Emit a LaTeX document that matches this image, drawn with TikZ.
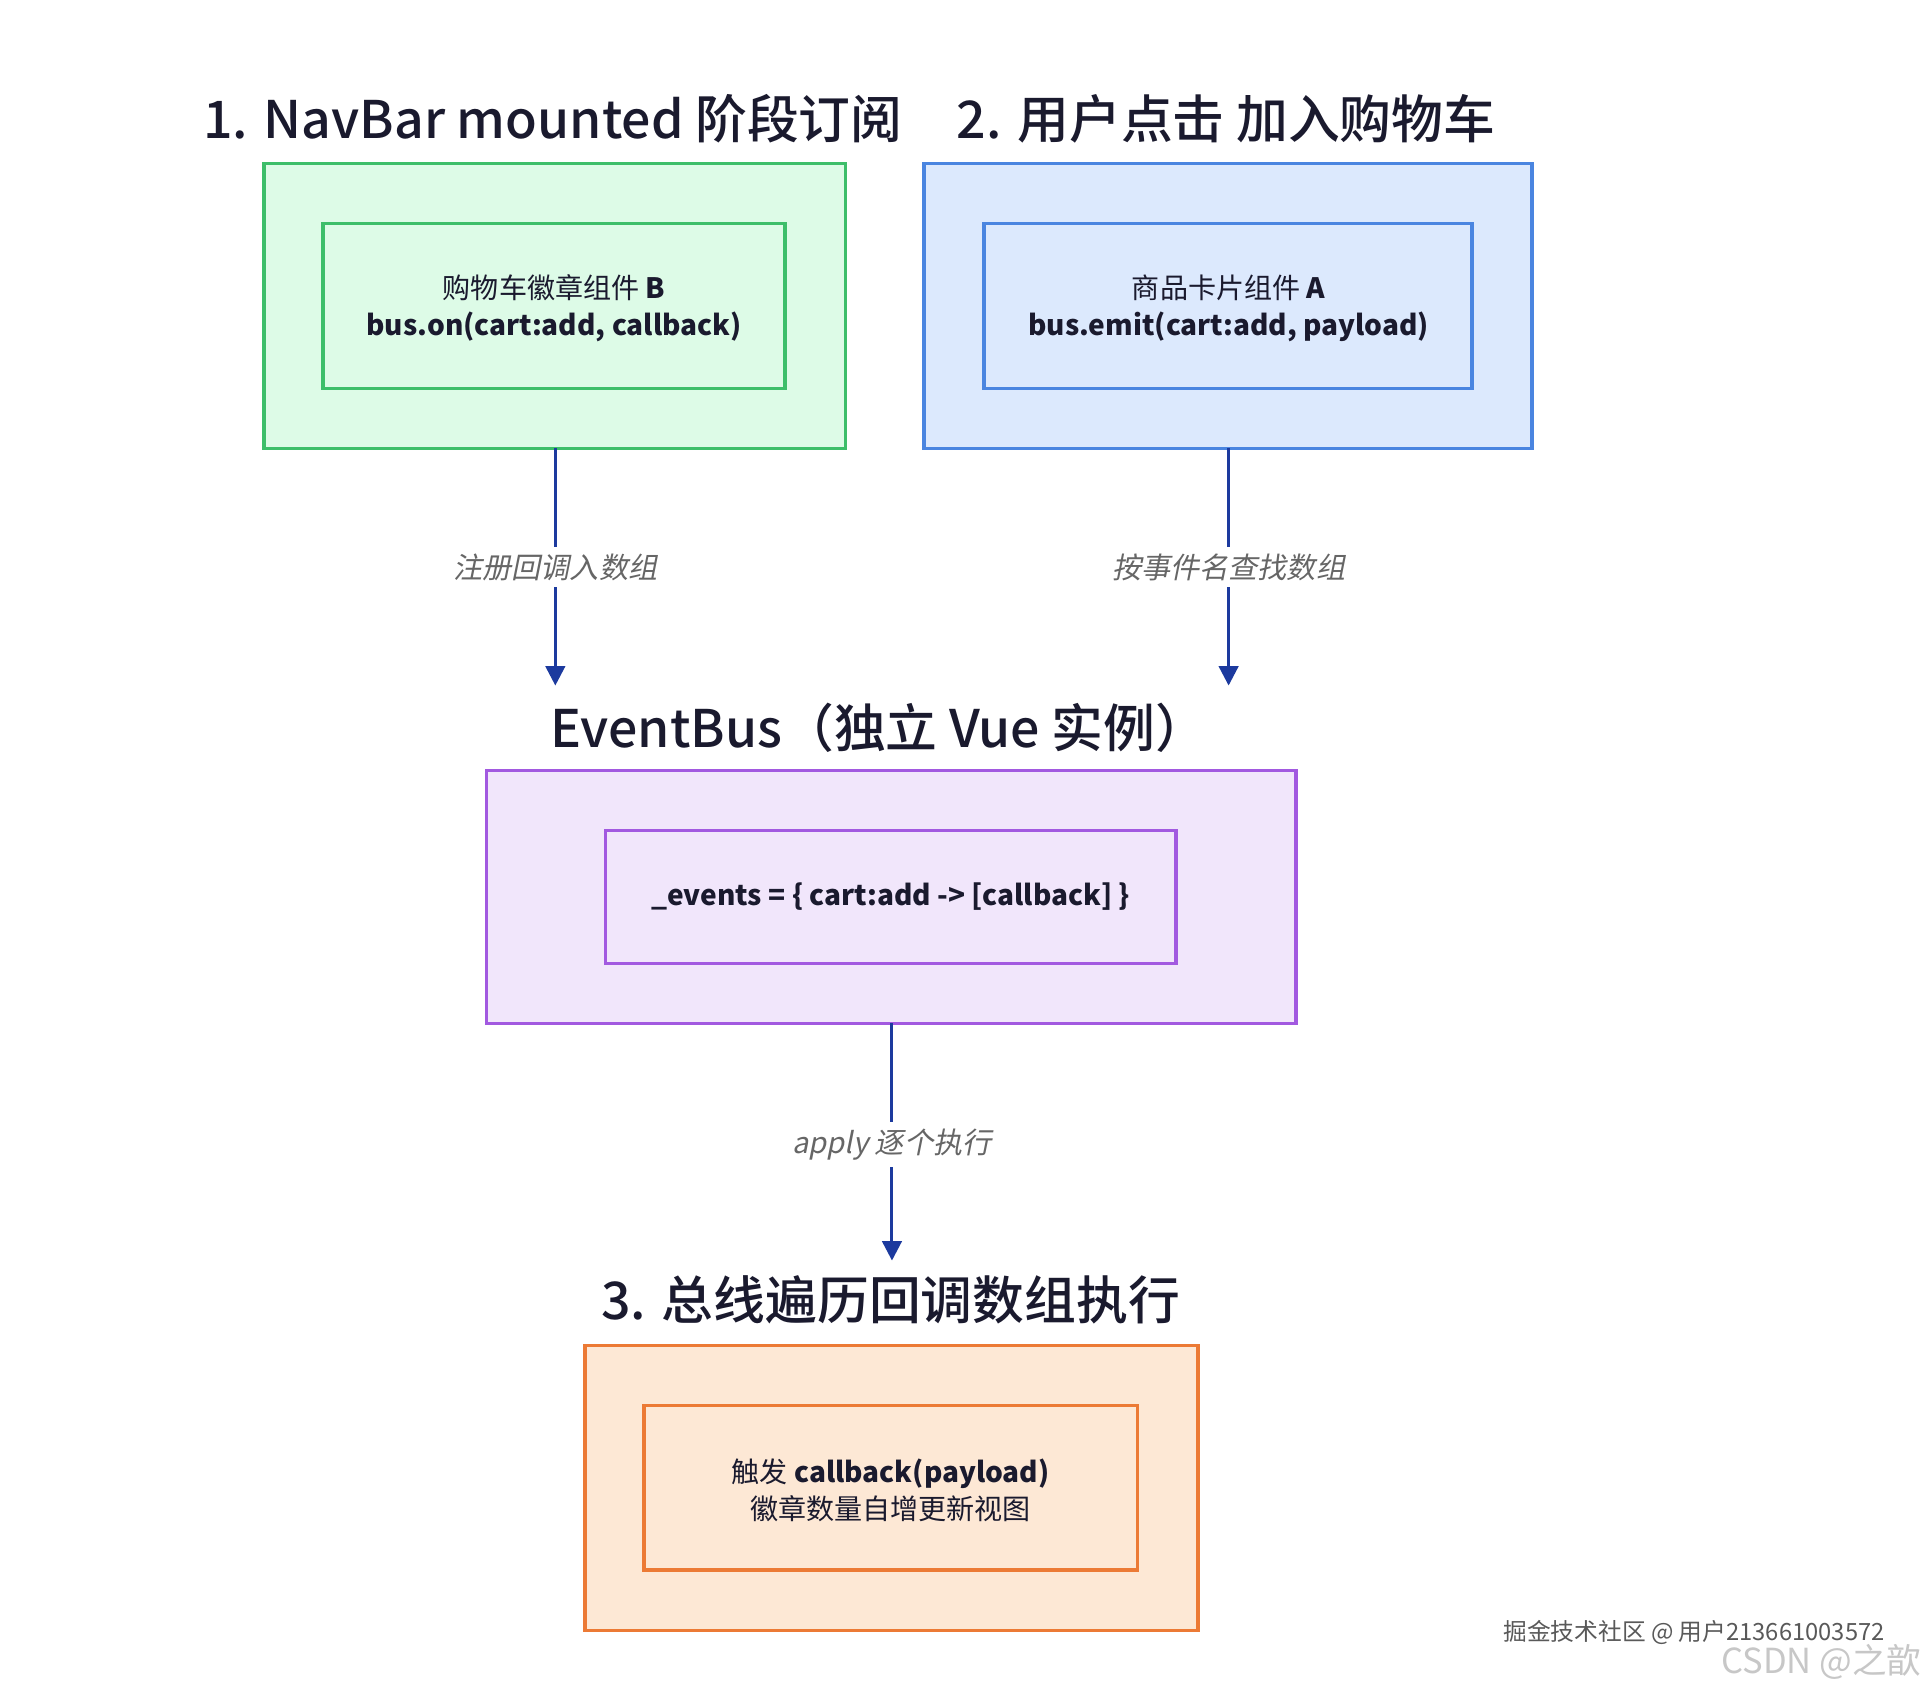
\documentclass[tikz,border=0pt]{standalone}
\usepackage{fontspec}
\setmainfont{Noto Sans CJK SC}
\newfontfamily\slfont[FakeSlant=0.2]{Noto Sans CJK SC}
\newfontfamily\medfont{Noto Sans CJK SC Medium}
\usetikzlibrary{arrows.meta}
\definecolor{gfill}{HTML}{DDFBE7}\definecolor{gline}{HTML}{3DBE6A}
\definecolor{bfill}{HTML}{DCE9FD}\definecolor{bline}{HTML}{4A85E0}
\definecolor{pfill}{HTML}{F1E6FB}\definecolor{pline}{HTML}{A259E0}
\definecolor{ofill}{HTML}{FDE8D5}\definecolor{oline}{HTML}{EC7A35}
\definecolor{arr}{HTML}{1C3A9E}\definecolor{txt}{HTML}{1A1A2E}
\begin{document}
\begin{tikzpicture}[x=0.02cm,y=-0.02cm,
 box/.style={draw=#1,line width=1.6pt},
 title/.style={anchor=center,font=\medfont\fontsize{24}{28}\selectfont,text=txt,inner sep=0},
 inner/.style={font=\bfseries\fontsize{13}{17}\selectfont,align=center,text=txt},
 lab/.style={font=\slfont\fontsize{13.5}{16}\selectfont,text=black!60,fill=white,inner sep=3pt},
 ar/.style={draw=arr,line width=1.4pt,-{Triangle[length=9pt,width=9pt]}}]
\useasboundingbox (0,0) rectangle (1566,1375);
% green
\node[title] (t1) at (450,97) {1. NavBar mounted 阶段订阅};
\draw[box=gline,fill=gfill] (215,133) rectangle (688,365);
\draw[box=gline] (263,182) rectangle (639,316);
\node[inner] (g) at (451,251) {{\mdseries 购物车徽章组件} B\\bus.on(cart:add, callback)};
\coordinate (gb) at (452,365);
% blue
\node[title] (t2) at (998,97) {2. 用户点击 加入购物车};
\draw[box=bline,fill=bfill] (752,133) rectangle (1247,365);
\draw[box=bline] (801,182) rectangle (1198,316);
\node[inner] (b) at (1000,251) {{\mdseries 商品卡片组件} A\\bus.emit(cart:add, payload)};
\coordinate (bb) at (1000,365);
% purple
\node[title] (t3) at (715,592) {EventBus（独立 Vue 实例）};
\draw[box=pline,fill=pfill] (396,627) rectangle (1055,833);
\draw[box=pline] (493,676) rectangle (957,784);
\node[inner] (p) at (725,730) {\_events = \{ cart:add -> [callback] \}};
\coordinate (pt1) at (452,558);\coordinate (pt2) at (1000,558);
\coordinate (pb) at (726,833);\coordinate (ot) at (726,1026);
% orange
\node[title] (t4) at (725,1058) {3. 总线遍历回调数组执行};
\draw[box=oline,fill=ofill] (476,1095) rectangle (975,1327);
\draw[box=oline] (524,1144) rectangle (926,1278);
\node[inner] (o) at (725,1213) {{\mdseries 触发} callback(payload)\\\mdseries 徽章数量自增更新视图};
% arrows
\draw[ar] (gb) -- (pt1) node[lab,pos=0.5] {注册回调入数组};
\draw[ar] (bb) -- (pt2) node[lab,pos=0.5] {按事件名查找数组};
\draw[ar] (pb) -- (ot) node[lab,pos=0.51] {apply 逐个执行};
% watermarks
\node[font=\fontsize{11}{13}\selectfont,text=black!65,anchor=east,inner sep=1pt] (w1) at (1536,1329) {掘金技术社区 @ 用户213661003572};
\node[font=\fontsize{16}{18}\selectfont,text=black!22,anchor=east,inner sep=1pt] (w2) at (1566,1353) {CSDN @之歆};
\end{tikzpicture}
\end{document}
